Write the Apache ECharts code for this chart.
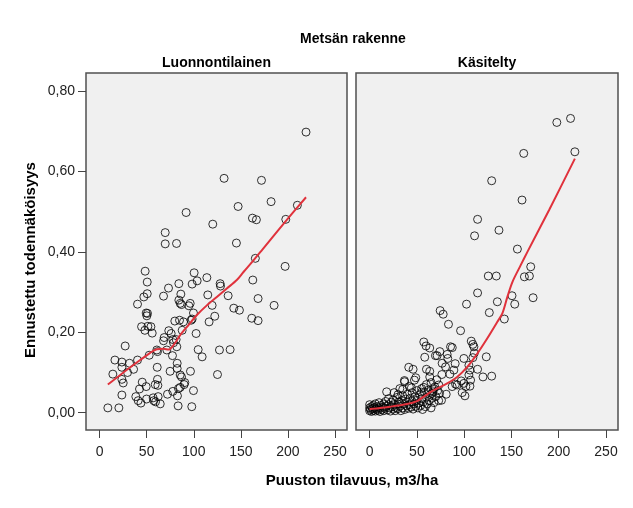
<!DOCTYPE html>
<html><head><meta charset="utf-8">
<script src="https://cdn.jsdelivr.net/npm/echarts@6/dist/echarts.min.js"></script>
<style>html,body{margin:0;padding:0;background:#fff}#c{width:633px;height:508px}</style>
</head><body><div id="c"></div>
<script>
const chartTitle = 'Metsän rakenne';
const panelNames = ['Luonnontilainen', 'Käsitelty'];
const xTitle = 'Puuston tilavuus, m3/ha';
const yTitle = 'Ennustettu todennäköisyys';
const xTicks = [0, 50, 100, 150, 200, 250];
const yTicks = [0, 0.2, 0.4, 0.6, 0.8];

const pointsLeft = [
[8.8,0.012],[20.5,0.012],[14.1,0.096],[16.3,0.131],[27.2,0.166],[23.7,0.126],[23.7,0.113],[23.7,0.083],[25.1,0.074],[23.7,0.044],
[31.8,0.123],[36.1,0.108],[29.7,0.100],[40.3,0.131],[40.3,0.270],[44.6,0.214],[48.1,0.205],[47.0,0.288],[48.4,0.352],[50.6,0.325],
[50.6,0.296],[49.5,0.248],[50.2,0.241],[50.9,0.247],[51.3,0.215],[54.5,0.214],[55.9,0.198],[52.7,0.143],[60.8,0.156],[61.5,0.152],
[61.2,0.113],[61.5,0.083],[59.1,0.070],[61.9,0.068],[45.3,0.076],[49.5,0.065],[42.4,0.059],[38.5,0.040],[41.0,0.030],[43.9,0.024],
[49.9,0.034],[56.9,0.037],[59.4,0.027],[62.2,0.040],[64.4,0.022],[57.6,0.030],[67.9,0.290],[73.2,0.310],[68.6,0.187],[67.9,0.179],
[73.5,0.204],[76.0,0.197],[77.8,0.182],[78.5,0.174],[71.4,0.156],[77.4,0.142],[74.9,0.103],[72.1,0.046],[77.8,0.053],[82.4,0.123],
[82.4,0.110],[82.0,0.164],[81.3,0.182],[79.9,0.228],[84.2,0.321],[84.2,0.280],[86.3,0.295],[84.9,0.230],[85.6,0.272],[87.0,0.269],
[87.7,0.205],[89.1,0.226],[85.6,0.094],[87.0,0.089],[85.6,0.063],[83.8,0.060],[89.8,0.070],[90.5,0.075],[82.7,0.042],[83.4,0.017],
[96.5,0.103],[97.9,0.015],[99.7,0.055],[96.2,0.272],[94.8,0.266],[98.3,0.320],[100.4,0.348],[103.6,0.328],[99.7,0.248],[98.3,0.233],
[97.2,0.230],[102.5,0.197],[104.7,0.157],[108.9,0.139],[113.9,0.336],[114.9,0.293],[116.3,0.226],[119.5,0.267],[122.3,0.240],[128.0,0.321],
[128.4,0.315],[127.3,0.156],[125.2,0.095],[138.6,0.157],[136.5,0.291],[142.5,0.260],[148.5,0.255],[161.6,0.235],[162.7,0.330],[168.3,0.284],
[168.3,0.229],[185.3,0.267],[197.0,0.364],[165.4,0.384],
[219.2,0.698],[132.2,0.583],[171.9,0.578],[182.1,0.525],[147.1,0.513],[210.0,0.516],[91.9,0.498],[162.3,0.484],[166.5,0.480],[197.7,0.481],
[120.2,0.469],[69.7,0.448],[69.7,0.420],[81.7,0.421],[145.3,0.422]
];

const lineLeft = [
[8.8,0.070],[21.9,0.094],[43.1,0.131],[53.7,0.149],[60.8,0.158],[67.9,0.159],[73.2,0.157],[78.5,0.168],[85.6,0.193],[94.4,0.218],
[103.3,0.243],[113.9,0.267],[124.5,0.288],[135.1,0.309],[145.7,0.330],[152.8,0.350],[163.4,0.379],[172.2,0.404],[190.0,0.455],[205.0,0.497],[219.2,0.536]
];

const pointsRight = [
[156.3,0.407],[170.4,0.363],[169.0,0.340],[163.7,0.338],[172.9,0.286],[125.5,0.340],[134.0,0.340],[114.2,0.298],[135.1,0.276],[126.6,0.249],
[102.5,0.270],[150.6,0.291],[153.5,0.270],[142.5,0.233],[74.6,0.254],[77.8,0.245],[83.4,0.220],[96.2,0.204],[57.3,0.176],[59.7,0.166],
[63.6,0.161],[58.3,0.138],[74.2,0.152],[69.6,0.142],[71.4,0.142],[82.0,0.145],[85.6,0.164],[87.4,0.162],[82.7,0.135],[76.7,0.123],
[80.3,0.114],[90.5,0.122],[89.1,0.106],[76.4,0.095],[84.9,0.096],[107.5,0.178],[109.2,0.170],[110.3,0.164],[110.7,0.148],[109.2,0.137],
[99.7,0.135],[123.4,0.139],[114.2,0.108],[105.0,0.118],[106.1,0.106],[105.0,0.094],[106.8,0.081],[106.1,0.066],[119.9,0.089],[129.1,0.091],
[96.9,0.079],[90.9,0.071],[92.6,0.069],[99.7,0.073],[101.8,0.065],[97.9,0.050],[100.8,0.042],[81.0,0.046],[87.3,0.065],[41.4,0.113],
[46.0,0.108],[48.8,0.087],[47.4,0.081],[36.8,0.080],[44.2,0.062],[60.1,0.108],[63.6,0.103],[63.6,0.089],[57.3,0.063],[54.8,0.051],
[66.1,0.048],[67.9,0.060],[73.2,0.069],[76.0,0.031],
[198.0,0.722],[212.5,0.732],[163.0,0.645],[217.1,0.649],[129.1,0.577],[161.2,0.529],[114.2,0.481],[136.8,0.454],[111.0,0.440],
[0,0.005],[0,0.012],[0,0.020],[1,0.008],[2,0.015],[2,0.003],[3,0.010],[4,0.018],[4,0.006],[5,0.012],[6,0.004],[6,0.022],[7,0.009],
[8,0.015],[9,0.006],[10,0.012],[10,0.025],[11,0.003],[12,0.018],[13,0.008],[14,0.014],[15,0.022],[15,0.005],[16,0.011],[17,0.028],
[18,0.016],[19,0.007],[20,0.035],[20,0.020],[21,0.012],[22,0.004],[23,0.026],[24,0.015],[25,0.009],[25,0.032],[26,0.020],[27,0.005],
[28,0.013],[29,0.038],[30,0.022],[30,0.010],[31,0.027],[32,0.016],[33,0.005],[34,0.030],[35,0.012],[35,0.042],[36,0.021],[37,0.008],
[38,0.034],[39,0.017],[40,0.026],[40,0.046],[41,0.011],[42,0.020],[43,0.036],[44,0.014],[45,0.028],[45,0.050],[46,0.009],[47,0.022],
[48,0.040],[49,0.016],[50,0.031],[50,0.055],[51,0.012],[52,0.024],[53,0.045],[54,0.018],[55,0.035],[55,0.060],[56,0.008],[57,0.027],
[58,0.050],[59,0.015],[60,0.038],[60,0.070],[61,0.022],[62,0.056],[63,0.030],[64,0.045],[65,0.012],[65,0.075],[66,0.036],[67,0.052],
[68,0.025],[69,0.064],[70,0.040],[71,0.082],[72,0.055],[73,0.030],[74,0.048],
[18,0.052],[35,0.058],[30,0.045],[26,0.050],[37,0.077],[32,0.060],[42,0.065]
];

const lineRight = [
[0,0.009],[21.9,0.015],[39.6,0.0215],[50.2,0.029],[57.3,0.040],[67.9,0.056],[82.0,0.073],[92.6,0.089],[103.3,0.114],[113.9,0.147],
[124.5,0.185],[135.1,0.226],[140.4,0.247],[145.7,0.288],[151.0,0.325],[159.8,0.367],[166.9,0.400],[190.0,0.505],[217.1,0.632]
];

const FONT = 'Arial, "Liberation Sans", sans-serif';
const grids = [
  {left: 86, top: 73, width: 261, height: 357},
  {left: 356, top: 73, width: 262, height: 357}
];
const fmtY = v => v.toFixed(2).replace('.', ',');

const chart = echarts.init(document.getElementById('c'), null, {renderer: 'canvas'});
const mkX = i => ({
  gridIndex: i, type: 'value', min: -14.4, max: 262.7, position: 'bottom',
  axisLine: {show: false, onZero: false},
  axisTick: {show: true, inside: false, length: 8, customValues: xTicks, lineStyle: {color: '#444', width: 1}},
  axisLabel: {customValues: xTicks, color: '#222', fontSize: 14, fontFamily: FONT, margin: 15},
  splitLine: {show: false}
});
const mkY = i => ({
  gridIndex: i, type: 'value', min: -0.043, max: 0.845, position: 'left',
  axisLine: {show: false, onZero: false},
  axisTick: {show: i === 0, inside: false, length: 8, customValues: yTicks, lineStyle: {color: '#444', width: 1}},
  axisLabel: {show: i === 0, customValues: yTicks, formatter: fmtY, color: '#222', fontSize: 14, fontFamily: FONT, margin: 11},
  splitLine: {show: false}
});
const scat = (i, d) => ({
  type: 'scatter', xAxisIndex: i, yAxisIndex: i, data: d, symbol: 'circle', symbolSize: 8,
  itemStyle: {color: 'rgba(0,0,0,0)', borderColor: '#000', borderWidth: 1}, silent: true, z: 2
});
const line = (i, d) => ({
  type: 'line', xAxisIndex: i, yAxisIndex: i, data: d, showSymbol: false, smooth: 0.3,
  lineStyle: {color: '#e0323c', width: 2}, silent: true, z: 3
});

chart.setOption({
  animation: false,
  backgroundColor: '#fff',
  grid: grids.map(g => Object.assign({show: true, backgroundColor: '#f0f0f0', borderColor: '#505050', borderWidth: 1.5}, g)),
  xAxis: [mkX(0), mkX(1)],
  yAxis: [mkY(0), mkY(1)],
  series: [scat(0, pointsLeft), line(0, lineLeft), scat(1, pointsRight), line(1, lineRight)],
  graphic: [
    {type: 'text', x: 353, y: 39, style: {text: chartTitle, font: 'bold 14px ' + FONT, fill: '#000', textAlign: 'center', textVerticalAlign: 'middle'}},
    {type: 'text', x: 216.5, y: 63, style: {text: panelNames[0], font: 'bold 14px ' + FONT, fill: '#000', textAlign: 'center', textVerticalAlign: 'middle'}},
    {type: 'text', x: 487, y: 63, style: {text: panelNames[1], font: 'bold 14px ' + FONT, fill: '#000', textAlign: 'center', textVerticalAlign: 'middle'}},
    {type: 'text', x: 352, y: 481, style: {text: xTitle, font: 'bold 15px ' + FONT, fill: '#000', textAlign: 'center', textVerticalAlign: 'middle'}},
    {type: 'text', x: 31, y: 260, rotation: Math.PI / 2, style: {text: yTitle, font: 'bold 15px ' + FONT, fill: '#000', textAlign: 'center', textVerticalAlign: 'middle'}}
  ]
});
</script>
</body></html>
